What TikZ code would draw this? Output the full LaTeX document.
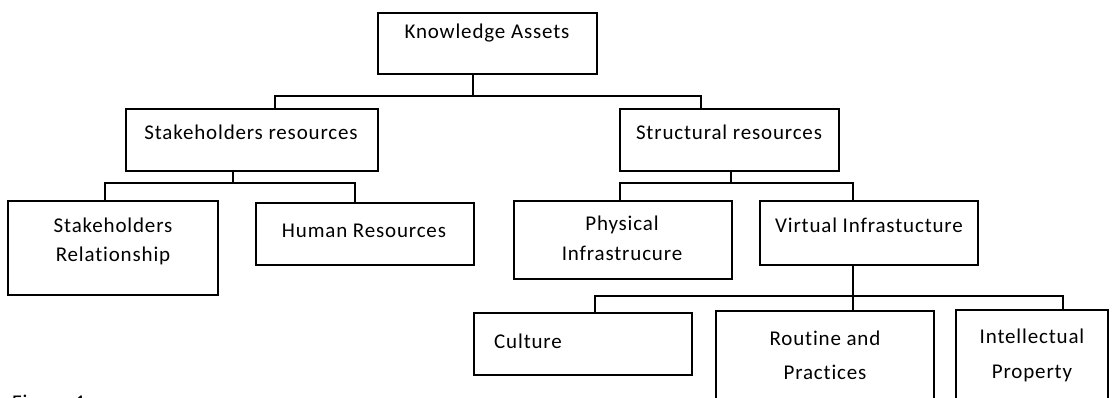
\documentclass[tikz,border=0pt]{standalone}
\usepackage{fontspec}
\setmainfont{Carlito}[LetterSpace=4,Ligatures=NoCommon]
\begin{document}
\begin{tikzpicture}[x=1pt,y=-1pt,
  box/.style={draw=black,line width=1.7pt,rectangle,inner sep=0pt,anchor=north west},
  lbl/.style={anchor=base,align=center,inner sep=0pt,text=black,font=\fontsize{21}{30}\selectfont},
  wire/.style={draw=black,line width=1.7pt}]
\useasboundingbox[fill=white] (0,0) rectangle (1112,397);
\clip (0,0) rectangle (1112,397);
% boxes
\node[box,minimum width=219pt,minimum height=61pt] (ka) at (377,12) {};
\node[box,minimum width=252pt,minimum height=62pt] (sr) at (125,108) {};
\node[box,minimum width=219pt,minimum height=62pt] (st) at (619,108) {};
\node[box,minimum width=210pt,minimum height=94pt] (shr) at (7,200) {};
\node[box,minimum width=218pt,minimum height=62pt] (hr) at (255,202) {};
\node[box,minimum width=218pt,minimum height=78pt] (pi) at (513,200) {};
\node[box,minimum width=218pt,minimum height=64pt] (vi) at (759,200) {};
\node[box,minimum width=218pt,minimum height=62pt] (cu) at (473,312) {};
\node[box,minimum width=218pt,minimum height=110pt] (ro) at (715,310) {};
\node[box,minimum width=152pt,minimum height=110pt] (ip) at (955,309) {};
% texts (multi-line nodes are placed by the baseline of their last line)
\node[lbl] (tka) at (487,38) {Knowledge Assets};
\node[lbl] (tsr) at (251,139) {Stakeholders resources};
\node[lbl] (tst) at (729,139) {Structural resources};
\node[lbl,font=\fontsize{21}{29}\selectfont] (tshr) at (113,261) {Stakeholders\\Relationship};
\node[lbl] (thr) at (364,237) {Human Resources};
\node[lbl] (tpi) at (622,260) {Physical\\Infrastrucure};
\node[lbl] (tvi) at (869,232) {Virtual Infrastucture};
\node[lbl,anchor=base west] (tcu) at (494,348) {Culture};
\node[lbl,font=\fontsize{21}{34}\selectfont] (tro) at (825,379) {Routine and\\Practices};
\node[lbl,font=\fontsize{21}{35}\selectfont] (tip) at (1032,378) {Intellectual\\Property};
\node[lbl,anchor=base west] (fig) at (12,409) {Figure 1};
% connector coordinates
\coordinate (b1s) at (473,96);
\coordinate (b1l) at (275,96);
\coordinate (b1r) at (701,96);
\coordinate (b2s) at (233,183);
\coordinate (b2l) at (105,183);
\coordinate (b2r) at (355,183);
\coordinate (b3s) at (731,183);
\coordinate (b3l) at (620,183);
\coordinate (b3r) at (853,183);
\coordinate (b4s) at (853,296);
\coordinate (b4l) at (595,296);
\coordinate (b4r) at (1063,296);
% connectors
\draw[wire] (ka.south -| b1s) -- (b1s);
\draw[wire] (sr.north -| b1l) -- (b1l) -- (b1r) -- (st.north -| b1r);
\draw[wire] (sr.south -| b2s) -- (b2s);
\draw[wire] (shr.north -| b2l) -- (b2l) -- (b2r) -- (hr.north -| b2r);
\draw[wire] (st.south -| b3s) -- (b3s);
\draw[wire] (pi.north -| b3l) -- (b3l) -- (b3r) -- (vi.north -| b3r);
\draw[wire] (vi.south -| b4s) -- (ro.north -| b4s);
\draw[wire] (cu.north -| b4l) -- (b4l) -- (b4r) -- (ip.north -| b4r);
\end{tikzpicture}
\end{document}
